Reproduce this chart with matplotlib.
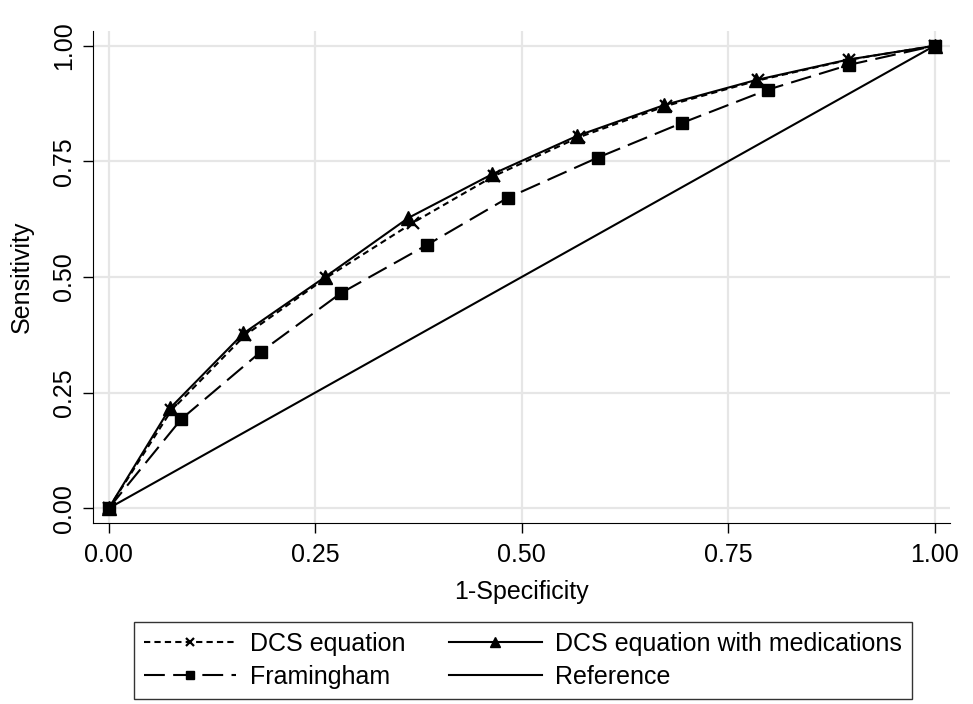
import matplotlib
matplotlib.use('Agg')
import matplotlib.pyplot as plt

# ROC points
dcs_x = [0.0, 0.076, 0.165, 0.263, 0.368, 0.466, 0.569, 0.675, 0.786, 0.897, 1.0]
dcs_y = [0.0, 0.212, 0.374, 0.498, 0.617, 0.718, 0.802, 0.870, 0.925, 0.970, 1.0]

med_x = [0.0, 0.074, 0.163, 0.262, 0.363, 0.464, 0.567, 0.673, 0.784, 0.895, 1.0]
med_y = [0.0, 0.216, 0.378, 0.500, 0.628, 0.722, 0.805, 0.872, 0.926, 0.970, 1.0]

fram_x = [0.0, 0.088, 0.184, 0.281, 0.385, 0.483, 0.592, 0.694, 0.798, 0.897, 1.0]
fram_y = [0.0, 0.193, 0.338, 0.465, 0.569, 0.671, 0.758, 0.833, 0.905, 0.959, 1.0]

ref_x = [0.0, 1.0]
ref_y = [0.0, 1.0]

ticks = [0.0, 0.25, 0.5, 0.75, 1.0]
tick_labels = ['0.00', '0.25', '0.50', '0.75', '1.00']

plt.rcParams['font.family'] = ['Liberation Sans', 'DejaVu Sans']

fig = plt.figure(figsize=(9.73, 7.04), dpi=100)
ax = fig.add_axes([0.0956, 0.257, 0.881, 0.699])

lw = 1.5
l1, = ax.plot(dcs_x, dcs_y, color='black', lw=lw, dashes=(3, 2), marker='x',
              markersize=9, markeredgewidth=1.6, label='DCS equation')
l2, = ax.plot(med_x, med_y, color='black', lw=lw, marker='^', markersize=10,
              label='DCS equation with medications')
l3, = ax.plot(fram_x, fram_y, color='black', lw=lw, dashes=(10, 4), marker='s',
              markersize=9, label='Framingham')
l4, = ax.plot(ref_x, ref_y, color='black', lw=lw, label='Reference')

ax.set_xlim(-0.019, 1.019)
ax.set_ylim(-0.032, 1.032)
ax.set_xticks(ticks)
ax.set_xticklabels(tick_labels)
ax.set_yticks(ticks)
ax.set_yticklabels(tick_labels, rotation=90, va='center')
ax.tick_params(labelsize=18, length=7, width=1, direction='out')
ax.tick_params(axis='x', pad=7)
ax.tick_params(axis='y', pad=5)
ax.grid(True, color='#e6e6e6', lw=1.6)
ax.set_axisbelow(True)
for side in ['top', 'right']:
    ax.spines[side].set_visible(False)
ax.set_xlabel('1-Specificity', fontsize=18, labelpad=10)
ax.set_ylabel('Sensitivity', fontsize=18, labelpad=13)

leg = fig.legend([l1, l3, l2, l4],
                 ['DCS equation', 'Framingham', 'DCS equation with medications', 'Reference'],
                 ncol=2, loc='center', bbox_to_anchor=(0.5375, 0.062),
                 frameon=True, fancybox=False, edgecolor='black', fontsize=18,
                 handlelength=3.7, columnspacing=1.75, handletextpad=0.55,
                 borderpad=0.4, labelspacing=0.36, markerscale=0.7)
leg.get_frame().set_linewidth(1.0)

fig.savefig('out.png', dpi=100, facecolor='white')
